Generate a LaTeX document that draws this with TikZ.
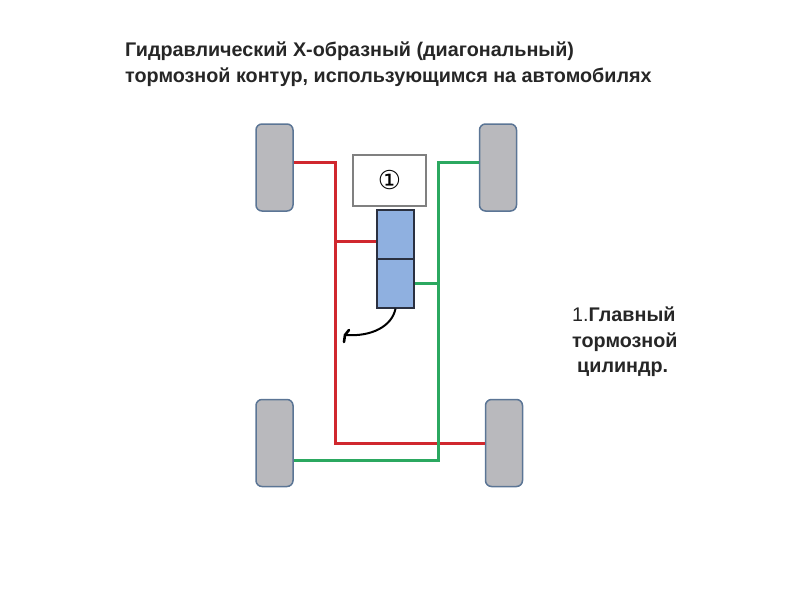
\documentclass[tikz,border=0pt]{standalone}
\usepackage{fontspec}
\setmainfont{Liberation Sans}
\newfontfamily\symbfont{DejaVu Sans}
\definecolor{brakered}{HTML}{D0282E}
\definecolor{brakegreen}{HTML}{2BA860}
\definecolor{wheelgray}{HTML}{B9B9BD}
\definecolor{wheeledge}{HTML}{5B7595}
\definecolor{cylblue}{HTML}{8FB0E0}
\definecolor{cyledge}{HTML}{2A3040}
\tikzset{
  wheel/.style={
    draw=wheeledge,
    fill=wheelgray,
    line width=1.5pt,
    rounded corners=6pt,
    inner sep=0pt,
    minimum width=37pt,
    minimum height=87pt
  },
  cylinder part/.style={
    draw=cyledge,
    fill=cylblue,
    line width=1.4pt,
    inner sep=0pt,
    minimum width=37pt,
    minimum height=49pt
  },
  redline/.style={
    draw=brakered,
    line width=3pt
  },
  greenline/.style={
    draw=brakegreen,
    line width=3pt
  },
  caption/.style={
    font=\bfseries\fontsize{19.75}{25.5}\selectfont,
    text=black!85,
    inner sep=0pt,
    anchor=west,
    align=left
  }
}
\begin{document}
\begin{tikzpicture}[x=1pt,y=-1pt]
    \useasboundingbox (0,0) rectangle (800,600);
    % lines first, wheels on top
    \coordinate (redtop) at (335,162);
    \coordinate (redbranch) at (335,241);
    \coordinate (redbottom) at (335,443);
    \coordinate (greentop) at (438,162);
    \coordinate (greenbottom) at (438,460);
    \node[wheel] (wfl) at (274.5,167.5) {};
    \node[wheel] (wfr) at (498,167.5) {};
    \node[wheel] (wrl) at (274.5,443) {};
    \node[wheel] (wrr) at (504,443) {};
    \node[cylinder part] (c1) at (395.5,234.5) {};
    \node[cylinder part] (c2) at (395.5,283.5) {};
    \node[draw=black!50,line width=1.3pt,minimum width=73pt,minimum height=51pt,inner sep=0pt] (res) at (389.5,180.5) {\symbfont\fontsize{26}{26}\selectfont ①};
    \draw[redline] (wfl.east |- redtop) -- (redtop) -- (redbottom) -- (wrr.west);
    \draw[redline] (redbranch) -- (redbranch -| c1.west);
    \draw[greenline] (wfr.west |- greentop) -- (greentop) -- (greenbottom) -- (wrl.east |- greenbottom);
    \draw[greenline] (greentop |- c2.east) -- (c2.east);
    % outlet arrow
    \coordinate (outlet) at (345,335);
    \coordinate (barbtop) at (349,330);
    \coordinate (barbend) at (344,342);
    \draw[line width=2pt,black] (c2.south) .. controls (392,326) and (372,337) .. (outlet);
    \draw[line width=2.6pt,black,line join=round,line cap=round] (barbtop) -- (outlet) -- (barbend);
    \node[caption] (title) at (125,64) {Гидравлический Х-образный (диагональный)\\тормозной контур, использующимся на автомобилях};
    \node[caption] (legend) at (572,342) {\mdseries 1.\bfseries Главный\\тормозной\\\hspace*{5pt}цилиндр.};
\end{tikzpicture}
\end{document}
